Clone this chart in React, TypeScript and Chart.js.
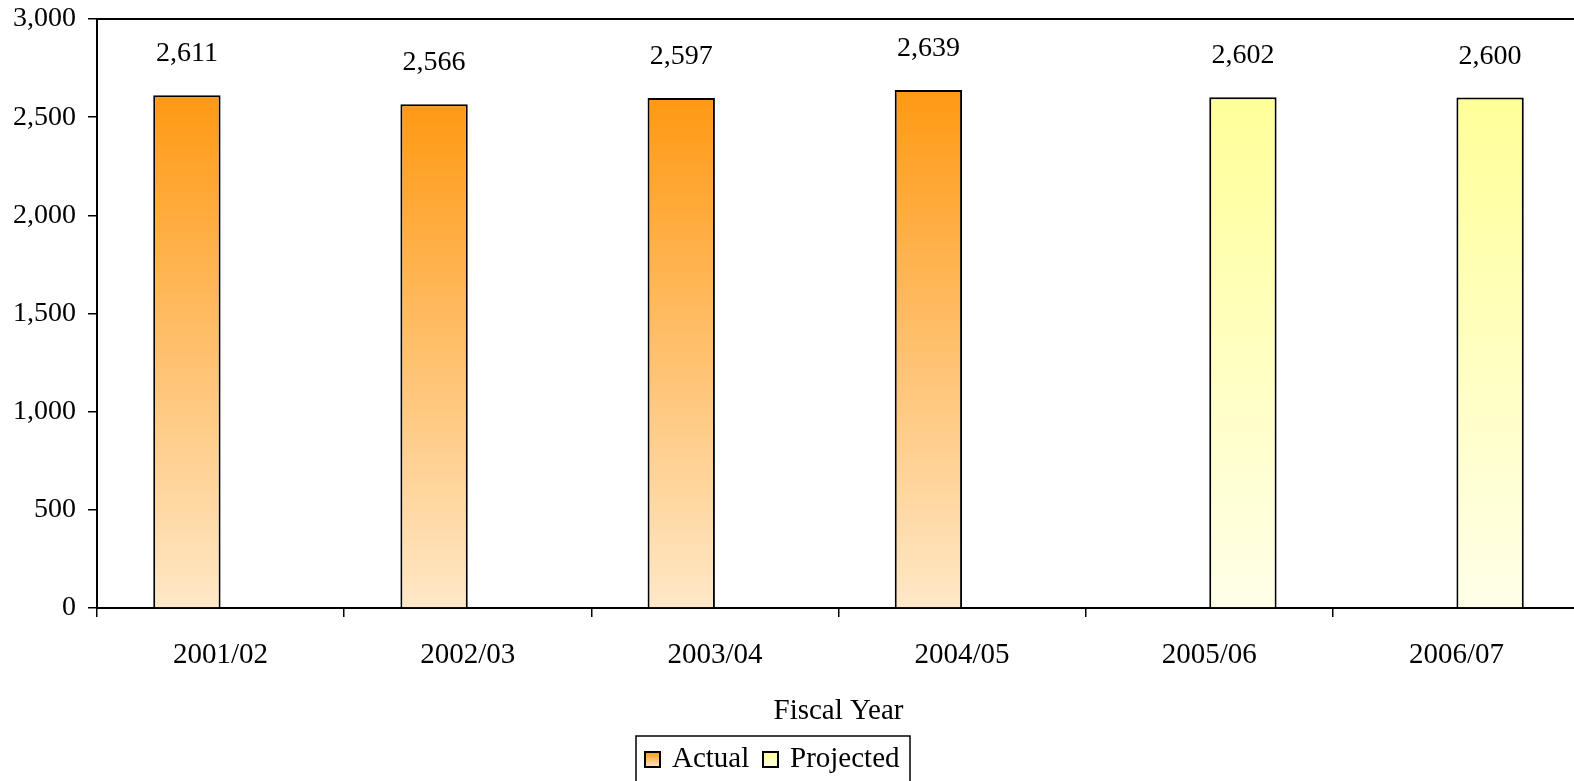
import React, { useEffect, useRef } from "react";
import { Chart, registerables } from "chart.js";

Chart.register(...registerables);

const categories: string[] = ["2001/02", "2002/03", "2003/04", "2004/05", "2005/06", "2006/07"];
const actualValues: (number | null)[] = [2611, 2566, 2597, 2639, null, null];
const projectedValues: (number | null)[] = [null, null, null, null, 2602, 2600];
const yTicks: number[] = [0, 500, 1000, 1500, 2000, 2500, 3000];
const axisTitle = "Fiscal Year";
const seriesNames = ["Actual", "Projected"];

const FONT = '"Liberation Serif", "Times New Roman", serif';
const ACTUAL_TOP = "#FF9914";
const ACTUAL_BOTTOM = "#FFE8C8";
const PROJ_TOP = "#FFFF99";
const PROJ_BOTTOM = "#FFFFE8";

const fmt = (v: number) => v.toLocaleString("en-US");

function barGradient(top: string, bottom: string) {
  return (ctx: any) => {
    const chart = ctx.chart;
    if (!chart.chartArea) return top;
    const v = ctx.raw;
    if (v == null) return "transparent";
    const ys = chart.scales.y;
    const g = chart.ctx.createLinearGradient(0, ys.getPixelForValue(v), 0, ys.getPixelForValue(0));
    g.addColorStop(0, top);
    g.addColorStop(1, bottom);
    return g;
  };
}

const decorPlugin = {
  id: "decor",
  afterDatasetsDraw(chart: any) {
    const { ctx, chartArea } = chart;
    ctx.save();
    ctx.strokeStyle = "#000";
    ctx.lineWidth = 2;
    ctx.beginPath();
    ctx.moveTo(chartArea.left, chartArea.top);
    ctx.lineTo(chartArea.right, chartArea.top);
    ctx.lineTo(chartArea.right, chartArea.bottom);
    ctx.stroke();
    ctx.fillStyle = "#000";
    ctx.font = `28px ${FONT}`;
    ctx.textAlign = "center";
    ctx.textBaseline = "alphabetic";
    chart.data.datasets.forEach((ds: any, di: number) => {
      const meta = chart.getDatasetMeta(di);
      meta.data.forEach((el: any, i: number) => {
        const v = ds.data[i];
        if (v == null) return;
        ctx.fillText(fmt(v), el.x, el.y - 34);
      });
    });
    ctx.restore();
  },
  afterDraw(chart: any) {
    const { ctx, chartArea } = chart;
    ctx.save();
    ctx.fillStyle = "#000";
    ctx.font = `29px ${FONT}`;
    ctx.textAlign = "center";
    ctx.textBaseline = "alphabetic";
    ctx.fillText(axisTitle, (chartArea.left + chartArea.right) / 2, 719);

    const boxL = 636, boxT = 736, boxR = 910, boxB = 800;
    ctx.strokeStyle = "#000";
    ctx.lineWidth = 1.5;
    ctx.strokeRect(boxL, boxT, boxR - boxL, boxB - boxT);
    ctx.textAlign = "left";
    const items = [
      { name: seriesNames[0], top: ACTUAL_TOP, bottom: ACTUAL_BOTTOM, x: 645 },
      { name: seriesNames[1], top: PROJ_TOP, bottom: PROJ_BOTTOM, x: 763 },
    ];
    items.forEach((it) => {
      const sy = 752, s = 15;
      const g = ctx.createLinearGradient(0, sy, 0, sy + s);
      g.addColorStop(0, it.top);
      g.addColorStop(1, it.bottom);
      ctx.fillStyle = g;
      ctx.fillRect(it.x, sy, s, s);
      ctx.lineWidth = 2;
      ctx.strokeStyle = "#000";
      ctx.strokeRect(it.x, sy, s, s);
      ctx.fillStyle = "#000";
      ctx.fillText(it.name, it.x + 27, 767);
    });
    ctx.restore();
  },
};

export default function App() {
  const ref = useRef<HTMLCanvasElement | null>(null);
  useEffect(() => {
    if (!ref.current) return;
    const chart = new Chart(ref.current, {
      type: "bar",
      data: {
        labels: categories,
        datasets: [
          {
            label: seriesNames[0],
            data: actualValues,
            backgroundColor: barGradient(ACTUAL_TOP, ACTUAL_BOTTOM),
            borderColor: "#000",
            borderWidth: 2,
            categoryPercentage: 0.545,
            barPercentage: 1,
          },
          {
            label: seriesNames[1],
            data: projectedValues,
            backgroundColor: barGradient(PROJ_TOP, PROJ_BOTTOM),
            borderColor: "#000",
            borderWidth: 2,
            categoryPercentage: 0.545,
            barPercentage: 1,
          },
        ] as any,
      },
      options: {
        responsive: false,
        animation: false,
        layout: { padding: { top: 19, right: 20, left: 0, bottom: 0 } },
        plugins: {
          legend: { display: false },
          tooltip: { enabled: false },
          title: { display: false },
        },
        scales: {
          x: {
            type: "category",
            offset: true,
            grid: {
              display: true,
              offset: true,
              drawOnChartArea: false,
              drawTicks: true,
              tickLength: 9,
              color: "#000",
              lineWidth: 1.5,
            },
            border: { display: true, color: "#000", width: 2 },
            ticks: {
              color: "#000",
              font: { family: FONT, size: 29 },
              padding: 21,
              maxRotation: 0,
            },
            afterFit: (s: any) => {
              s.height = 173;
              s.paddingLeft = 0;
              s.paddingRight = 0;
            },
          },
          y: {
            min: 0,
            max: 3000,
            afterBuildTicks: (s: any) => {
              s.ticks = yTicks.map((v) => ({ value: v }));
            },
            grid: {
              display: true,
              drawOnChartArea: false,
              drawTicks: true,
              tickLength: 9,
              color: "#000",
              lineWidth: 1.5,
            },
            border: { display: true, color: "#000", width: 2 },
            ticks: {
              color: "#000",
              font: { family: FONT, size: 28 },
              padding: 12,
              callback: (v: any) => fmt(Number(v)),
            },
            afterFit: (s: any) => {
              s.width = 97;
              s.paddingTop = 0;
              s.paddingBottom = 0;
            },
          },
        },
      },
      plugins: [decorPlugin],
    });
    return () => chart.destroy();
  }, []);
  return (
    <div
      style={{
        position: "fixed",
        left: 0,
        top: 0,
        width: 1574,
        height: 781,
        overflow: "hidden",
        background: "#fff",
      }}
    >
      <canvas ref={ref} width={1600} height={781} style={{ width: 1600, height: 781, display: "block" }} />
    </div>
  );
}
